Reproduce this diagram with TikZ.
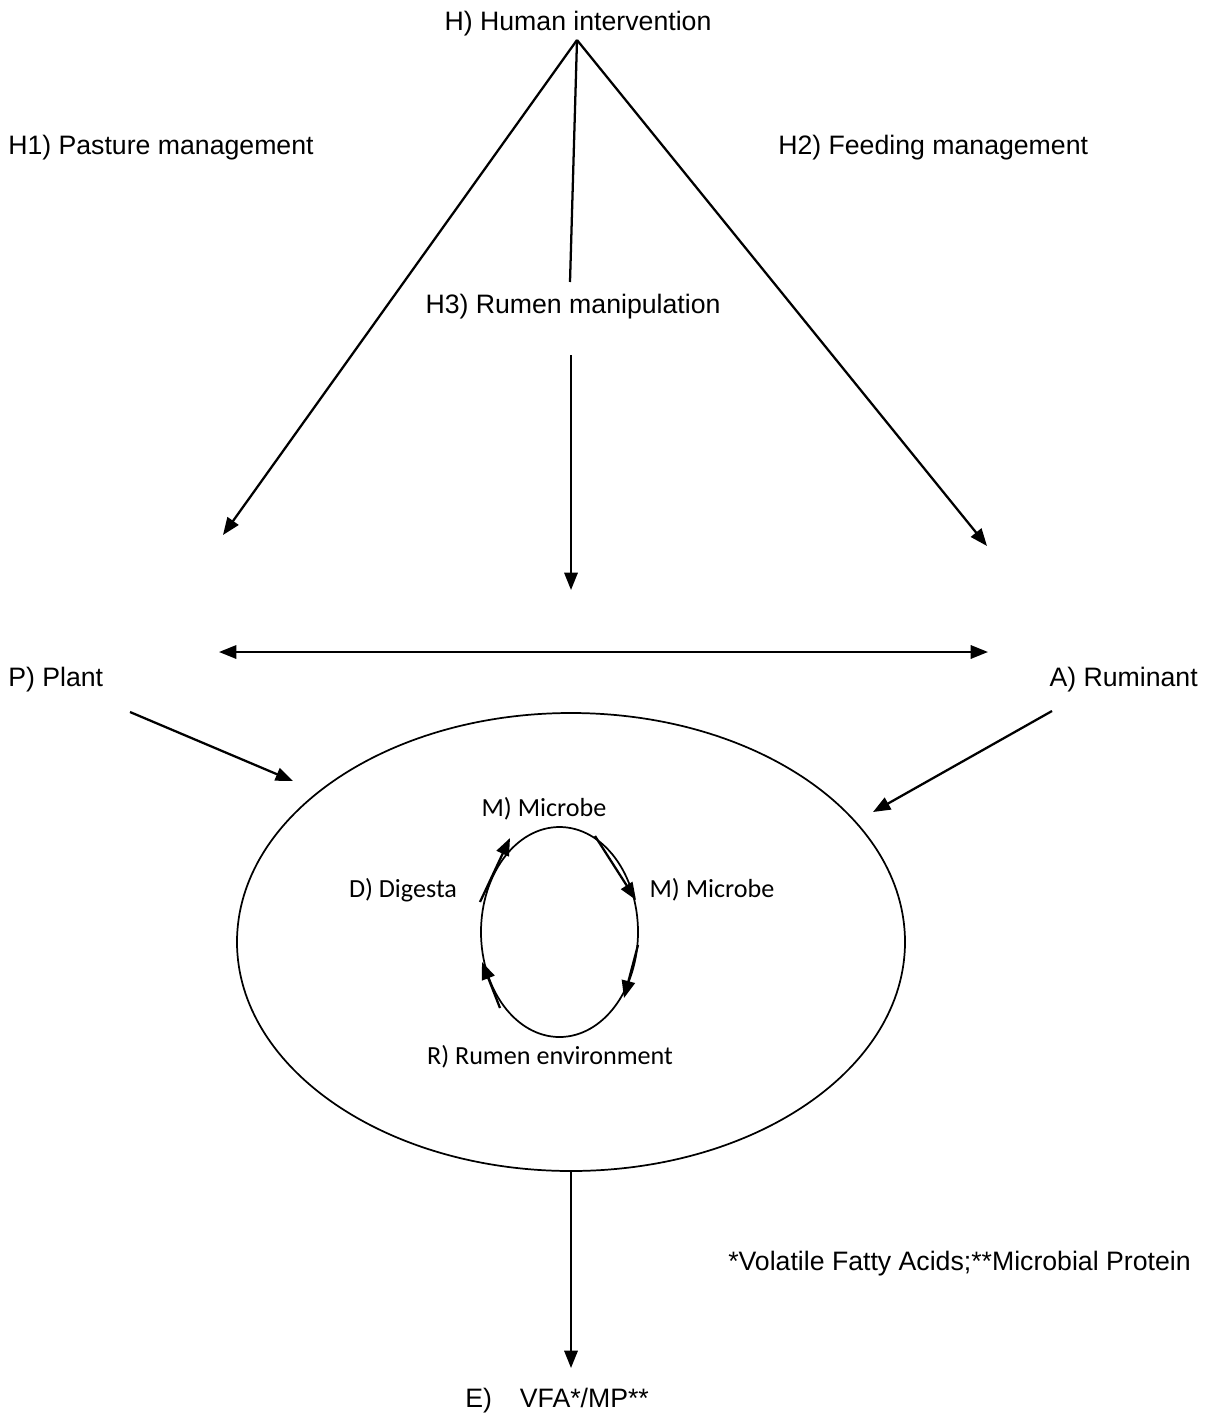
\documentclass[tikz,border=0pt]{standalone}
\usepackage{fontspec}
\setmainfont{Liberation Sans}
\newfontfamily\calib{Carlito}
\usepackage{tikz}
\usetikzlibrary{arrows.meta, shapes.geometric}

\begin{document}
\begin{tikzpicture}[x=0.75pt,y=-0.75pt]
	\tikzstyle{txt}=[inner sep=0pt,font=\fontsize{20}{24}\selectfont]
	\tikzstyle{ctxt}=[inner sep=0pt,font=\calib\fontsize{19.6}{23}\selectfont]
	\tikzstyle{arr}=[line width=1.7pt,-{Triangle[length=13pt,width=10pt]}]
	\useasboundingbox (0,0) rectangle (1210,1417);
	% labels
	\node[txt](hum) at (578,24){H) Human intervention};
	\node[txt,anchor=mid west](pas) at (8,151){H1) Pasture management};
	\node[txt,anchor=mid west](fee) at (778,151){H2) Feeding management};
	\node[txt](rmn) at (573,307){H3) Rumen manipulation};
	\node[txt,anchor=mid west](pla) at (8,683){P) Plant};
	\node[txt,anchor=mid east](rum) at (1198,683){A) Ruminant};
	\node[txt,anchor=mid west](note) at (728,1267){*Volatile Fatty Acids;**Microbial Protein};
	\node[txt,anchor=mid west](vfa) at (465,1404){E)\hspace{1.05em}VFA*/MP**};
	% rumen
	\node[ellipse,draw,line width=1.3pt,minimum width=501pt,minimum height=343.5pt,inner sep=0pt](env) at (571,942){};
	\node[ellipse,draw,line width=1.3pt,minimum width=117.75pt,minimum height=157.5pt,inner sep=0pt](cyc) at (559.5,932){};
	\node[ctxt](mtop) at (544,809){M) Microbe};
	\node[ctxt](dig) at (403,890){D) Digesta};
	\node[ctxt](mrig) at (712,890){M) Microbe};
	\node[ctxt](renv) at (550,1057){R) Rumen environment};
	% free ends
	\coordinate (apex) at (577,40);
	\coordinate (h3a) at (570,282);
	\coordinate (h3b) at (571,355);
	\coordinate (h3c) at (571,590);
	\coordinate (tipP) at (223,535);
	\coordinate (tipA) at (987,546);
	\coordinate (bl) at (219,652);
	\coordinate (br) at (988,652);
	\coordinate (pA) at (130,712);
	\coordinate (pB) at (293,781);
	\coordinate (aA) at (1052,711);
	\coordinate (aB) at (873,812);
	\coordinate (eB) at (571,1368);
	\coordinate (c1) at (480,902);
	\coordinate (c2) at (510,838);
	\coordinate (c3) at (595,836);
	\coordinate (c4) at (636,900);
	\coordinate (c5) at (638,945);
	\coordinate (c6) at (624,998);
	\coordinate (c7) at (500,1008);
	\coordinate (c8) at (482,962);
	% connectors
	\draw[line width=1.7pt] (apex) -- (h3a);
	\path[arr]
		(apex) edge (tipP)
		(apex) edge (tipA)
		(h3b) edge (h3c)
		(pA) edge (pB)
		(aA) edge (aB)
		(env.south) edge (eB)
		(c1) edge (c2)
		(c3) edge (c4)
		(c5) edge (c6)
		(c7) edge (c8);
	\draw[line width=1.7pt,{Triangle[length=13pt,width=10pt]}-{Triangle[length=13pt,width=10pt]}] (bl) -- (br);
\end{tikzpicture}
\end{document}
